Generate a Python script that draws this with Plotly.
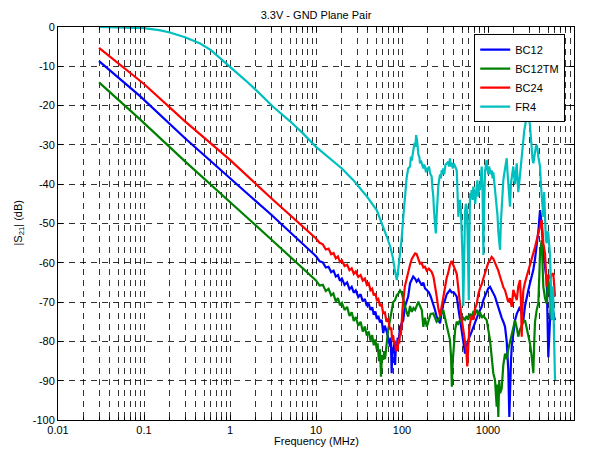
import plotly.graph_objects as go

# ---- data (frequency in MHz, |S21| in dB) ----
BC12 = [
    (0.03, -8.7), (0.09, -17.6), (0.3, -28.3), (1, -38.3), (1.71, -43.0), (3, -47.7),
    (6.5, -54.6), (10, -58.3), (11, -59.6), (12, -59.9), (13, -61.2), (14, -61.0), (15, -62.4),
    (16, -62.0), (17, -63.5), (18, -63.1), (19, -64.6), (20, -64.0), (21.5, -65.6), (23, -65.0),
    (24.5, -66.7), (26, -66.1), (27.5, -67.6), (29, -67.0), (31, -68.7), (33, -68.0), (35, -69.8),
    (37, -69.2), (39, -71.0), (41, -70.4), (43, -72.0), (45, -71.3), (47, -73.2), (49, -72.4),
    (51, -74.3), (53, -73.5), (55.5, -75.2), (58, -74.5), (60.5, -77.9), (63, -76.0), (66.4, -77.5),
    (69, -79.5), (72.5, -81.3), (74, -79.0), (75.9, -88.1), (77, -81.5), (79, -83.0), (81, -80.0),
    (83, -86.0), (85, -81.0), (86.7, -82.5), (89, -79.0), (91, -80.5), (94.8, -76.3), (99, -75.5),
    (103.5, -74.6), (108, -71.2), (113, -69.5), (118, -68.6), (124, -65.2), (130, -64.4), (135, -63.5),
    (141.6, -64.0), (148, -64.8), (155, -64.2), (162, -65.2), (170, -65.8), (177, -65.0), (185, -66.5),
    (194, -66.9), (205, -67.5), (215, -68.5), (231, -70.3), (242, -72.0), (253, -73.7), (264, -74.5),
    (277, -75.4), (290, -72.5), (302, -70.5), (316, -69.5), (331, -68.0), (345, -67.5), (361, -66.9),
    (378, -67.5), (400, -67.5), (415, -68.0), (433, -68.6), (452, -71.5), (472, -74.6), (495, -78.0),
    (516, -80.5), (541, -83.1), (565, -81.0), (590, -79.6), (618, -78.5), (646, -77.5), (675, -76.3),
    (710, -75.0), (740, -73.7), (771, -73.0), (807, -72.0), (845, -71.2), (882, -69.5), (923, -68.5),
    (966, -67.8), (1007, -66.5), (1055, -66.1), (1104, -67.0), (1153, -67.5), (1206, -68.6),
    (1262, -70.0), (1318, -71.5), (1380, -72.9), (1443, -74.0), (1507, -75.0), (1578, -76.3),
    (1650, -80.0), (1722, -87.3), (1770, -99.2), (1803, -90.0), (1850, -85.0), (1888, -81.3),
    (1969, -78.0), (2061, -74.6), (2158, -73.0), (2251, -72.0), (2355, -71.2), (2466, -73.0),
    (2576, -74.6), (2693, -71.0), (2818, -68.6), (2944, -67.0), (3077, -65.2), (3222, -63.5),
    (3367, -61.8), (3522, -59.0), (3685, -55.9), (3848, -52.0), (4028, -46.6), (4100, -48.0),
    (4211, -50.0), (4397, -57.6), (4603, -61.0), (4816, -64.4), (5027, -84.0), (5150, -76.0),
    (5262, -74.6), (5400, -70.0), (5508, -68.0), (5747, -72.9), (6016, -74.6),
]

BC12TM = [
    (0.03, -14.1), (0.09, -23.5), (0.3, -34.2), (1, -44.4), (1.7, -49.1), (3, -54.0),
    (6.5, -60.6), (10, -64.5), (11, -65.8), (12, -65.6), (13, -67.2), (14, -66.6), (15, -68.3),
    (15.9, -67.8), (17, -69.8), (18, -69.0), (19, -70.8), (20, -70.2), (21.5, -72.0), (23, -71.2),
    (24.5, -73.5), (26, -72.6), (27.5, -74.8), (29, -73.8), (31, -76.0), (33, -75.0), (35, -77.5),
    (37, -76.2), (39, -78.5), (41, -77.5), (43, -79.8), (45, -78.4), (47, -81.0), (49, -79.5),
    (50.8, -82.0), (52, -80.5), (54, -85.0), (55.5, -82.0), (57, -89.0), (58.5, -83.5),
    (60.6, -84.7), (62, -82.5), (63.5, -84.5), (66.4, -79.6), (69, -77.0), (72.5, -74.6),
    (75, -72.5), (79, -70.0), (83, -69.5), (87, -68.2), (91, -67.8), (94.8, -67.0), (99, -67.6),
    (103.5, -69.5), (108, -71.2), (113, -72.5), (118, -73.7), (124, -71.0), (130, -72.5),
    (136, -71.5), (142, -72.0), (148, -71.0), (155, -69.9), (162, -71.0), (170, -72.0),
    (177, -76.3), (185, -74.0), (194, -76.3), (205, -74.5), (215, -73.0), (231, -72.9),
    (242, -74.0), (253, -75.0), (264, -74.6), (277, -73.5), (302, -72.0), (316, -74.0),
    (331, -76.3), (345, -78.0), (361, -79.6), (372, -84.0), (380, -91.5), (389, -85.0),
    (400, -80.0), (415, -77.0), (433, -75.0), (452, -75.5), (472, -74.6), (495, -75.0),
    (516, -74.0), (541, -74.5), (565, -73.5), (590, -74.5), (618, -73.0), (646, -73.7),
    (675, -72.5), (710, -73.0), (740, -72.0), (771, -73.0), (807, -72.5), (845, -74.0),
    (882, -73.5), (923, -74.0), (966, -74.6), (1007, -77.0), (1055, -79.6), (1104, -84.0),
    (1153, -88.1), (1206, -89.8), (1240, -93.0), (1262, -96.6), (1290, -91.0), (1318, -99.2),
    (1350, -90.0), (1380, -93.2), (1443, -92.0), (1507, -86.0), (1578, -83.1), (1650, -84.5),
    (1722, -82.0), (1803, -80.0), (1888, -77.9), (1969, -76.0), (2061, -74.6), (2158, -76.5),
    (2251, -78.8), (2355, -77.0), (2466, -76.0), (2576, -75.0), (2693, -74.6), (2818, -76.5),
    (2944, -78.8), (3077, -80.5), (3222, -83.9), (3367, -88.1), (3450, -80.0), (3522, -75.0),
    (3685, -72.0), (3848, -70.3), (4028, -57.6), (4211, -54.2), (4300, -60.0), (4397, -66.1),
    (4603, -69.0), (4816, -70.3), (5027, -64.0), (5262, -68.0), (5508, -74.6),
]

BC24 = [
    (0.03, -5.3), (0.1, -14.5), (0.3, -24.0), (1, -33.8), (3, -43.5), (6.5, -50.0),
    (10, -53.8), (11, -54.9), (12, -55.3), (13, -56.6), (14, -56.4), (15, -57.8), (16, -57.5),
    (17, -58.9), (18, -58.4), (19, -59.8), (20, -59.4), (21.5, -60.8), (23, -60.5), (24.5, -61.9),
    (26, -61.4), (27.5, -62.8), (29, -62.2), (31, -63.6), (33, -63.1), (35, -64.5), (37, -64.0),
    (39, -65.6), (41, -65.2), (43, -67.0), (45, -66.6), (47, -68.3), (49, -67.8), (51, -69.5),
    (53, -69.2), (55.5, -71.0), (58, -70.5), (60.5, -73.0), (63, -72.4), (66, -75.0), (69, -74.2),
    (72.5, -77.0), (75, -76.5), (77, -79.8), (79, -78.6), (81, -80.8), (83, -79.8), (85, -82.5),
    (87, -81.0), (89, -82.2), (91, -79.5), (93, -80.5), (95, -77.5), (97, -78.5), (99, -74.5),
    (102, -71.0), (105, -68.5), (108, -66.0), (113, -64.2), (118, -62.0), (124, -60.5),
    (130, -59.0), (136, -58.4), (142, -57.6), (148, -57.8), (155, -59.0), (162, -60.2),
    (169, -60.0), (177, -61.2), (185, -61.0), (194, -62.0), (205, -61.5), (221, -62.3),
    (232, -63.5), (242, -65.5), (253, -68.5), (264, -71.5), (277, -73.5), (290, -71.0),
    (302, -68.5), (316, -66.0), (331, -63.8), (345, -62.5), (361, -60.5), (378, -59.5),
    (395, -60.5), (415, -61.5), (433, -62.8), (452, -66.5), (472, -71.0), (495, -74.5),
    (516, -77.0), (541, -79.8), (560, -82.5), (574, -86.4), (590, -80.5), (605, -77.0),
    (618, -75.4), (646, -73.5), (675, -74.5), (710, -71.5), (740, -70.5), (771, -68.0),
    (807, -66.5), (845, -65.5), (882, -64.0), (923, -62.5), (966, -61.0), (1007, -60.0),
    (1055, -59.3), (1104, -58.5), (1153, -59.0), (1206, -60.0), (1262, -60.8), (1318, -62.0),
    (1380, -63.5), (1443, -65.0), (1507, -66.2), (1578, -67.0), (1650, -68.6), (1722, -70.0),
    (1803, -69.0), (1888, -71.2), (1969, -66.9), (2061, -68.0), (2158, -69.5), (2251, -66.0),
    (2355, -64.4), (2420, -70.0), (2466, -78.8), (2520, -71.0), (2576, -67.0), (2693, -65.0),
    (2818, -63.5), (2944, -62.5), (3077, -61.0), (3222, -59.5), (3367, -57.6), (3522, -56.0),
    (3685, -54.2), (3848, -52.5), (4028, -50.8), (4211, -49.1), (4300, -52.0), (4397, -55.0),
    (4603, -57.6), (4700, -62.0), (4816, -66.1), (5027, -63.0), (5262, -64.0), (5508, -63.0),
    (5747, -62.7), (5900, -66.0), (6016, -68.6),
]

FR4 = [
    (0.03, 0.0), (0.05, -0.05), (0.08, -0.15), (0.1, -0.3), (0.15, -0.8), (0.2, -1.4),
    (0.3, -2.6), (0.45, -4.2), (0.6, -5.9), (0.73, -7.5), (1, -10.1), (1.5, -13.5), (2, -16.0),
    (3.17, -20.3), (5, -24.0), (7, -27.0), (10, -30.5), (14.6, -33.4), (20, -36.0), (27, -38.9),
    (38, -42.8), (50.8, -46.6), (60, -50.5), (67, -53.5), (73, -55.9), (78, -58.5), (82, -61.5),
    (85, -63.5), (87, -64.4), (89, -63.0), (92, -60.5), (95, -58.0), (99, -54.0), (103, -49.0),
    (108, -43.0), (113, -38.5), (118, -36.0), (124, -35.5), (127, -33.0), (130, -34.0),
    (135, -31.5), (140, -29.5), (143, -30.5), (146, -27.5), (150, -29.0), (155, -32.5),
    (159, -33.0), (162, -34.7), (166, -34.0), (170, -35.0), (177, -36.0), (181, -35.0),
    (185, -35.5), (190, -37.0), (194, -35.8), (200, -36.5), (206, -35.5), (212, -37.2),
    (221, -38.0), (226, -41.0), (231, -43.0), (236, -47.0), (242, -49.5), (247, -52.5),
    (253, -48.0), (258, -44.0), (264, -40.6), (270, -39.0), (277, -37.5), (283, -38.5),
    (290, -36.4), (296, -37.5), (302, -36.0), (310, -37.5), (320, -35.0), (331, -34.8),
    (345, -34.3), (353, -35.5), (361, -33.4), (370, -35.5), (378, -34.5), (390, -36.0),
    (400, -34.7), (415, -35.5), (433, -36.5), (442, -42.0), (452, -48.3), (462, -45.0),
    (472, -44.0), (485, -47.0), (500, -53.0), (508, -60.0), (516, -71.0), (524, -58.0),
    (530, -50.0), (541, -47.0), (553, -45.0), (565, -45.7), (578, -52.0), (590, -62.0),
    (598, -69.5), (606, -55.0), (618, -42.3), (632, -43.5), (646, -41.5), (660, -44.0),
    (675, -40.6), (690, -42.0), (710, -45.0), (730, -41.5), (752, -39.0), (771, -43.2),
    (790, -40.0), (807, -41.5), (825, -37.5), (845, -35.5), (862, -40.0), (876, -48.0),
    (884, -58.0), (892, -50.0), (905, -42.0), (923, -37.0), (945, -35.0), (966, -33.8),
    (985, -36.0), (1007, -37.5), (1030, -35.5), (1055, -36.4), (1080, -37.5), (1104, -36.5),
    (1130, -38.5), (1153, -37.0), (1180, -39.0), (1206, -40.5), (1235, -43.0), (1262, -44.5),
    (1290, -48.0), (1318, -52.0), (1350, -55.0), (1380, -56.7), (1410, -50.0), (1443, -45.0),
    (1475, -41.0), (1507, -39.0), (1540, -37.5), (1578, -36.0), (1610, -35.0), (1650, -33.4),
    (1685, -37.0), (1722, -40.0), (1760, -42.5), (1803, -45.7), (1845, -40.0), (1888, -38.0),
    (1930, -36.5), (1969, -35.5), (2015, -38.0), (2061, -40.0), (2110, -37.0), (2158, -34.7),
    (2200, -38.5), (2251, -42.0), (2300, -40.0), (2355, -38.0), (2410, -36.0), (2466, -34.0),
    (2520, -31.0), (2576, -28.8), (2635, -26.5), (2693, -25.0), (2750, -23.5), (2818, -22.8),
    (2880, -21.5), (2944, -22.0), (3010, -23.5), (3077, -25.0), (3150, -28.0), (3222, -31.3),
    (3290, -33.5), (3367, -34.7), (3440, -33.0), (3522, -31.5), (3600, -30.5), (3685, -30.0),
    (3765, -31.0), (3848, -33.0), (3935, -34.5), (4028, -35.5), (4120, -40.0), (4211, -44.0),
    (4300, -47.0), (4397, -48.3), (4500, -42.0), (4603, -51.7), (4700, -54.0), (4816, -55.0),
    (4920, -52.0), (5027, -52.5), (5140, -56.0), (5262, -58.0), (5380, -65.0), (5508, -74.5),
    (5600, -70.0), (5700, -66.0), (5850, -78.0), (6016, -89.8),
]

series_names = ["BC12", "BC12TM", "BC24", "FR4"]
series_colors = ["#0000FF", "#008000", "#FF0000", "#00BFBF"]
x_tick_vals = [0.01, 0.1, 1, 10, 100, 1000, 10000]
x_tick_text = ["0.01", "0.1", "1", "10", "100", "1000", "10000"]
y_tick_vals = [0, -10, -20, -30, -40, -50, -60, -70, -80, -90, -100]
y_tick_text = ["0", "-10", "-20", "-30", "-40", "-50", "-60", "-70", "-80", "-90", "-100"]

FONT = "Liberation Sans, Arial, Helvetica, sans-serif"
GRID = "rgba(0,0,0,0.8)"
DASH = "6px,5px"

# the page body has an 8px margin, so the figure is sized 8px smaller
W, H = 581, 443

fig = go.Figure()
for name, color, data in zip(series_names, series_colors, [BC12, BC12TM, BC24, FR4]):
    fig.add_trace(go.Scatter(
        x=[p[0] for p in data], y=[p[1] for p in data], mode="lines", name=name,
        line=dict(color=color, width=2.2),
    ))

minor_vals = [m * 10 ** e for e in range(-2, 4) for m in range(2, 10)]

fig.update_xaxes(
    type="log", range=[-2, 4],
    tickmode="array", tickvals=x_tick_vals, ticktext=x_tick_text,
    ticks="inside", ticklen=5, tickcolor="black", tickwidth=1,
    showline=True, linecolor="black", linewidth=1, mirror="allticks",
    showgrid=True, gridcolor=GRID, gridwidth=1, griddash=DASH,
    minor=dict(tickmode="array", tickvals=minor_vals, ticks="inside", ticklen=3,
               tickcolor="black", showgrid=True, gridcolor=GRID, gridwidth=1, griddash=DASH),
    tickfont=dict(size=11, color="black", family=FONT),
    zeroline=False,
)
fig.update_yaxes(
    range=[-100, 0],
    tickmode="array", tickvals=y_tick_vals, ticktext=y_tick_text,
    ticks="inside", ticklen=5, tickcolor="black", tickwidth=1,
    showline=True, linecolor="black", linewidth=1, mirror="allticks",
    showgrid=True, gridcolor=GRID, gridwidth=1, griddash=DASH,
    tickfont=dict(size=11, color="black", family=FONT),
    zeroline=False,
)

fig.update_layout(
    width=W, height=H,
    margin=dict(l=50, r=15, t=19, b=31),
    paper_bgcolor="white", plot_bgcolor="white",
    font=dict(family=FONT, size=11, color="black"),
    title=dict(text="3.3V - GND Plane Pair", x=(50 + 258) / W, xanchor="center",
               y=1 - 7 / H, yanchor="middle", yref="container",
               font=dict(size=11, color="black", family=FONT)),
    legend=dict(x=0.983, y=0.982, xanchor="right", yanchor="top",
                bgcolor="white", bordercolor="black", borderwidth=1,
                font=dict(size=11, color="black", family=FONT),
                tracegroupgap=0, itemwidth=30),
    showlegend=True,
    annotations=[
        dict(text="Frequency (MHz)", x=0.5, y=(412 - 433) / 393, xref="paper", yref="paper",
             xanchor="center", yanchor="middle", showarrow=False,
             font=dict(size=11, color="black", family=FONT)),
        dict(text="|S<sub>21</sub>| (dB)", x=(10 - 50) / 516, y=0.5, xref="paper", yref="paper",
             xanchor="center", yanchor="middle", showarrow=False, textangle=-90,
             font=dict(size=11, color="black", family=FONT)),
    ],
)

fig.write_html("out.html")
